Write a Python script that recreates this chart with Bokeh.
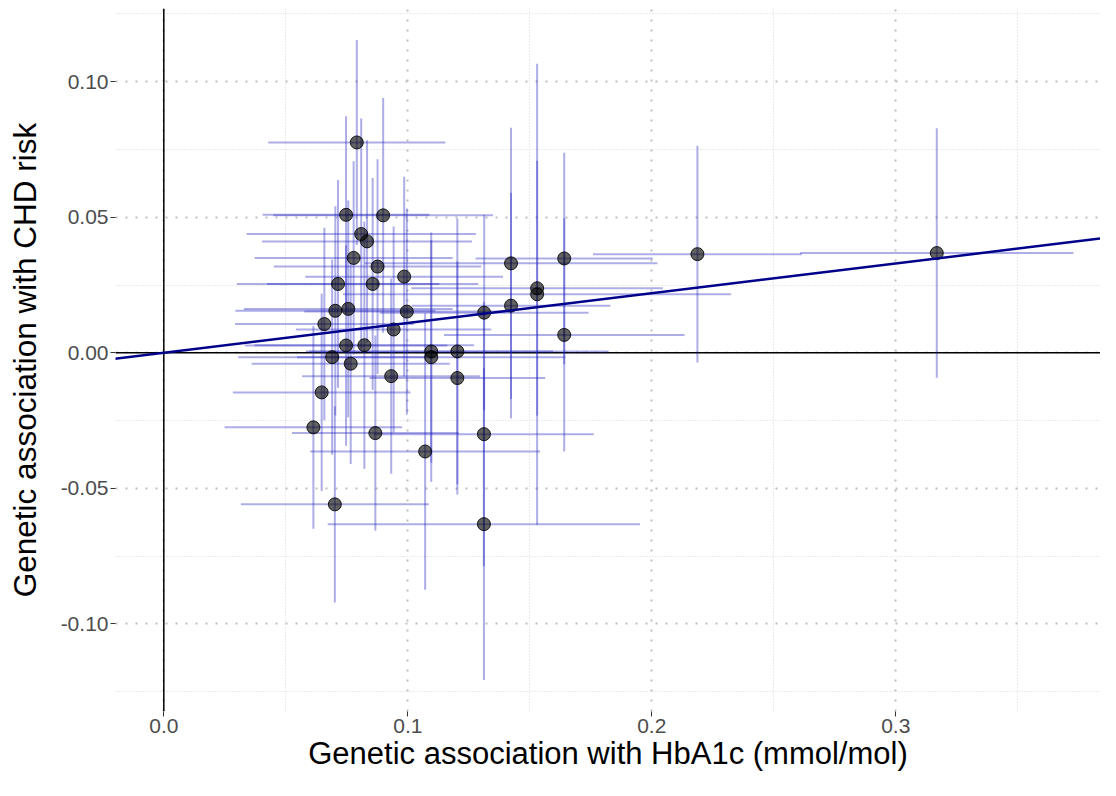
import numpy as np
from bokeh.plotting import figure
from bokeh.models import (Range1d, FixedTicker, CustomJSTickFormatter, Span, Slope,
                          ColumnDataSource)
from bokeh.embed import file_html
from bokeh.resources import INLINE

# ---- data ----
beta_x = [0.0791, 0.0747, 0.0899, 0.0809, 0.0833, 0.0778, 0.0876, 0.0985, 0.0714, 0.0856,
          0.0703, 0.0756, 0.0996, 0.0658, 0.0942, 0.0747, 0.0822, 0.0690, 0.0766, 0.1096,
          0.1096, 0.1203, 0.0932, 0.1203, 0.0647, 0.0613, 0.0867, 0.1312, 0.1071, 0.0701,
          0.1312, 0.1423, 0.1641, 0.1530, 0.1530, 0.1423, 0.1313, 0.1641, 0.2187, 0.3168]
beta_y = [0.0776, 0.0509, 0.0507, 0.0438, 0.0411, 0.0350, 0.0318, 0.0281, 0.0254, 0.0254,
          0.0155, 0.0162, 0.0152, 0.0106, 0.0086, 0.0027, 0.0028, -0.0016, -0.0040, 0.0005,
          -0.0016, 0.0005, -0.0086, -0.0093, -0.0146, -0.0275, -0.0296, -0.0300, -0.0364, -0.0559,
          -0.0632, 0.0330, 0.0348, 0.0238, 0.0216, 0.0174, 0.0148, 0.0066, 0.0364, 0.0368]
ci_x = [0.0363, 0.0342, 0.0450, 0.0470, 0.0430, 0.0406, 0.0425, 0.0405, 0.0415, 0.0433,
        0.0410, 0.0428, 0.0420, 0.0366, 0.0400, 0.0415, 0.0450, 0.0385, 0.0406, 0.0500,
        0.0550, 0.0620, 0.0365, 0.0360, 0.0364, 0.0364, 0.0342, 0.0450, 0.0471, 0.0385,
        0.0640, 0.0600, 0.0363, 0.0515, 0.0795, 0.0407, 0.0428, 0.0493, 0.0428, 0.0560]
ci_y = [0.0378, 0.0364, 0.0433, 0.0426, 0.0373, 0.0357, 0.0396, 0.0368, 0.0383, 0.0391,
        0.0386, 0.0400, 0.0380, 0.0355, 0.0380, 0.0370, 0.0456, 0.0360, 0.0370, 0.0410,
        0.0460, 0.0490, 0.0360, 0.0430, 0.0364, 0.0374, 0.0360, 0.0487, 0.0510, 0.0362,
        0.0575, 0.0500, 0.0390, 0.0470, 0.0850, 0.0416, 0.0360, 0.0430, 0.0400, 0.0460]
ivw_slope = 0.1098

x_ticks = [0.0, 0.1, 0.2, 0.3]
x_tick_labels = ["0.0", "0.1", "0.2", "0.3"]
x_minor = [0.05, 0.15, 0.25, 0.35]
y_ticks = [-0.10, -0.05, 0.0, 0.05, 0.10]
y_tick_labels = ["-0.10", "-0.05", "0.00", "0.05", "0.10"]
y_minor = [-0.125, -0.075, -0.025, 0.025, 0.075, 0.125]

x_title = "Genetic association with HbA1c (mmol/mol)"
y_title = "Genetic association with CHD risk"

# ---- figure ----
bx = np.array(beta_x); by = np.array(beta_y)
cx = np.array(ci_x); cy = np.array(ci_y)
src = ColumnDataSource(dict(x=bx, y=by, xlo=bx - cx, xhi=bx + cx, ylo=by - cy, yhi=by + cy))

p = figure(width=1100, height=780, output_backend="svg", toolbar_location=None,
           x_range=Range1d(-0.0198, 0.3839), y_range=Range1d(-0.1323, 0.1270),
           min_border_left=115, min_border_right=0, min_border_top=8, min_border_bottom=69)
p.outline_line_color = None
p.background_fill_color = "white"
p.border_fill_color = "white"

p.xaxis.ticker = FixedTicker(ticks=x_ticks, minor_ticks=x_minor)
p.yaxis.ticker = FixedTicker(ticks=y_ticks, minor_ticks=y_minor)
fmt_code = """
const i = tvals.findIndex(t => Math.abs(t - tick) < 1e-9);
return i >= 0 ? tlabels[i] : "";
"""
p.xaxis.formatter = CustomJSTickFormatter(args=dict(tvals=x_ticks, tlabels=x_tick_labels), code=fmt_code)
p.yaxis.formatter = CustomJSTickFormatter(args=dict(tvals=y_ticks, tlabels=y_tick_labels), code=fmt_code)

for ax in (p.xaxis[0], p.yaxis[0]):
    ax.axis_line_color = None
    ax.major_tick_line_color = "#333333"
    ax.major_tick_in = 0
    ax.major_tick_out = 5
    ax.minor_tick_line_color = None
    ax.major_label_text_font = "Liberation Sans"
    ax.major_label_text_font_size = "21px"
    ax.major_label_text_color = "#4D4D4D"
    ax.axis_label_text_font = "Liberation Sans"
    ax.axis_label_text_font_style = "normal"
    ax.axis_label_text_color = "black"
p.xaxis.axis_label_text_font_size = "31px"
p.yaxis.axis_label_text_font_size = "31.5px"
p.xaxis.axis_label = x_title
p.yaxis.axis_label = y_title
p.xaxis.major_label_standoff = 2
p.yaxis.major_label_standoff = 2
p.xaxis.axis_label_standoff = 0
p.yaxis.axis_label_standoff = 15

for g in (p.xgrid[0], p.ygrid[0]):
    g.grid_line_color = "#BEBEBE"
    g.grid_line_width = 2
    g.grid_line_dash = "2 8"
    g.minor_grid_line_color = "#D6D6D6"
    g.minor_grid_line_width = 1
    g.minor_grid_line_dash = "1 2"

p.add_layout(Span(location=0, dimension="height", line_color="black", line_width=1.5, level="underlay"))
p.add_layout(Span(location=0, dimension="width", line_color="black", line_width=1.5, level="underlay"))

p.segment(x0="x", y0="ylo", x1="x", y1="yhi", source=src, line_color="#2020C0", line_alpha=0.37, line_width=2)
p.segment(x0="xlo", y0="y", x1="xhi", y1="y", source=src, line_color="#2020C0", line_alpha=0.37, line_width=2)
p.scatter(x="x", y="y", source=src, size=13, fill_color="black", fill_alpha=0.62,
          line_color="black", line_alpha=0.85, line_width=1)

p.add_layout(Slope(gradient=ivw_slope, y_intercept=0, line_color="#00008B", line_width=2.5))

open("out.html", "w").write(file_html(p, INLINE))
